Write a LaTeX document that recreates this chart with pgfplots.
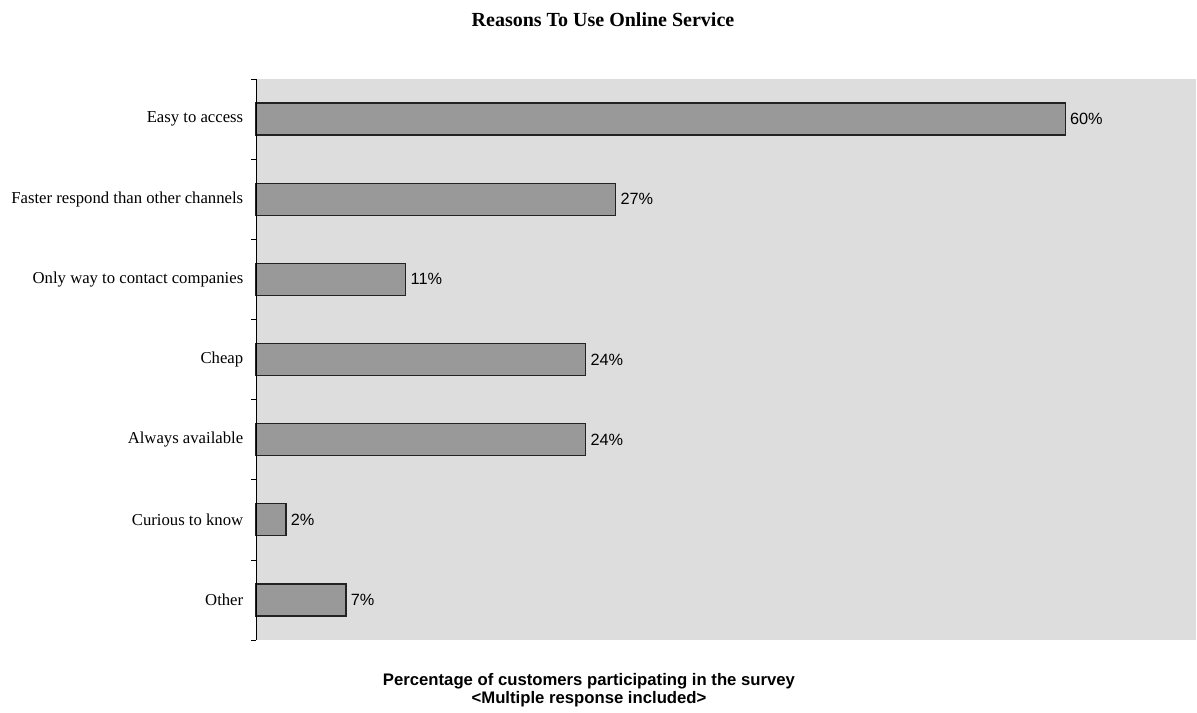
\documentclass[border=0pt]{standalone}
\usepackage{fontspec}
\setmainfont{Liberation Serif}
\newfontfamily\arial{Liberation Sans}
\usepackage{pgfplots}
\pgfplotsset{compat=1.18}
\definecolor{bg}{HTML}{DDDDDD}
\definecolor{barfill}{HTML}{999999}
\definecolor{barline}{HTML}{222222}
\begin{document}
\begin{tikzpicture}
\begin{axis}[
  name=ax,
  scale only axis,
  width=940bp, height=561bp,
  xbar, bar width=32bp,
  xmin=0, xmax=69.7,
  ymin=-0.5, ymax=6.5,
  y dir=reverse,
  ytick pos=left,
  ytick={0,1,2,3,4,5,6},
  yticklabels={Easy to access,Faster respond than other channels,Only way to contact companies,Cheap,Always available,Curious to know,Other},
  major y tick style={draw=none},
  minor ytick={-0.5,0.5,1.5,2.5,3.5,4.5,5.5,6.5},
  minor tick length=5bp,
  tick align=outside,
  minor y tick style={black, line width=0.6pt},
  xtick=\empty,
  axis line style={draw=none},
  axis background/.style={fill=bg},
  yticklabel style={font=\fontsize{16.7bp}{18bp}\selectfont, xshift=-5bp},
  clip=false,
  point meta=x,
  nodes near coords={\pgfmathprintnumber[fixed,precision=0]{\pgfplotspointmeta}\%},
  nodes near coords style={font=\arial\fontsize{16.3bp}{18bp}\selectfont, anchor=west, xshift=1bp, /pgf/number format/assume math mode=true},
]
\addplot[fill=barfill, draw=barline, line width=1.2pt] coordinates {
  (60.00,0) (26.67,1) (11.11,2) (24.44,3) (24.44,4) (2.22,5) (6.67,6)
};
\end{axis}
\draw[black, line width=0.7pt] (ax.south west) -- (ax.north west);
\coordinate (bl) at ([xshift=-256bp,yshift=-73bp]ax.south west);
\coordinate (tl) at ([xshift=-256bp,yshift=79bp]ax.north west);
\pgfresetboundingbox
\path[use as bounding box] (bl) rectangle ([xshift=1197bp]tl);
\node[font=\bfseries\fontsize{20bp}{22bp}\selectfont] at ([xshift=603bp,yshift=-20bp]tl) {Reasons To Use Online Service};
\node[font=\arial\bfseries\fontsize{16.7bp}{18bp}\selectfont] at ([xshift=589bp,yshift=32bp]bl) {Percentage of customers participating in the survey};
\node[font=\arial\bfseries\fontsize{16.7bp}{18bp}\selectfont] at ([xshift=589bp,yshift=14bp]bl) {<Multiple response included>};
\end{tikzpicture}
\end{document}
